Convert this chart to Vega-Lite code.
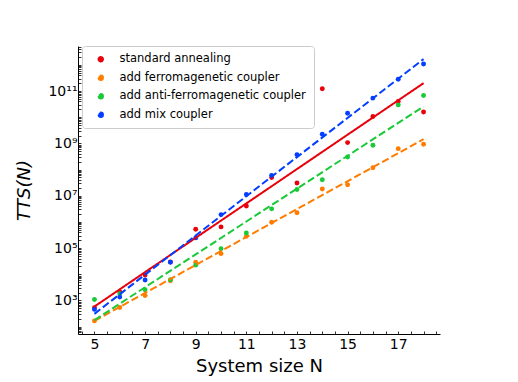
{
  "$schema": "https://vega.github.io/schema/vega-lite/v6.json",
  "width": 362,
  "height": 288,
  "autosize": {"type": "none"},
  "padding": {"left": 78, "top": 46, "right": 78, "bottom": 48},
  "config": {
    "view": {"stroke": null},
    "font": "DejaVu Sans",
    "axis": {
      "domainColor": "black", "domainWidth": 1, "tickColor": "black", "tickWidth": 0.8,
      "labelColor": "black", "titleColor": "black", "grid": false,
      "labelFont": "DejaVu Sans", "titleFont": "DejaVu Sans", "labelFontSize": 14, "titleFontSize": 18,
      "titleFontWeight": "normal", "labelOverlap": false, "labelFlush": false
    },
    "legend": {
      "orient": "none", "legendX": 4, "legendY": 0,
      "labelFont": "DejaVu Sans", "labelFontSize": 11.5, "labelColor": "black",
      "symbolSize": 24, "symbolType": "circle", "padding": 7.5, "rowPadding": 5.5,
      "fillColor": "rgba(255,255,255,0.8)", "strokeColor": "#cccccc", "cornerRadius": 3,
      "symbolOffset": 5.5, "labelOffset": 13, "labelLimit": 400
    }
  },
  "datasets": {
    "points": [
      {"N": 5, "TTS": 525, "series": "standard annealing"},
      {"N": 6, "TTS": 2138, "series": "standard annealing"},
      {"N": 7, "TTS": 9333, "series": "standard annealing"},
      {"N": 8, "TTS": 29512, "series": "standard annealing"},
      {"N": 9, "TTS": 524807, "series": "standard annealing"},
      {"N": 10, "TTS": 645654, "series": "standard annealing"},
      {"N": 11, "TTS": 4073803, "series": "standard annealing"},
      {"N": 12, "TTS": 5.012e7, "series": "standard annealing"},
      {"N": 13, "TTS": 3.09e7, "series": "standard annealing"},
      {"N": 14, "TTS": 1.23e11, "series": "standard annealing"},
      {"N": 15, "TTS": 1.072e9, "series": "standard annealing"},
      {"N": 16, "TTS": 1.072e10, "series": "standard annealing"},
      {"N": 17, "TTS": 3.98e10, "series": "standard annealing"},
      {"N": 18, "TTS": 1.585e10, "series": "standard annealing"},
      {"N": 5, "TTS": 166, "series": "add ferromagenetic coupler"},
      {"N": 6, "TTS": 537, "series": "add ferromagenetic coupler"},
      {"N": 7, "TTS": 1549, "series": "add ferromagenetic coupler"},
      {"N": 8, "TTS": 5623, "series": "add ferromagenetic coupler"},
      {"N": 9, "TTS": 28840, "series": "add ferromagenetic coupler"},
      {"N": 10, "TTS": 61660, "series": "add ferromagenetic coupler"},
      {"N": 11, "TTS": 281838, "series": "add ferromagenetic coupler"},
      {"N": 12, "TTS": 977237, "series": "add ferromagenetic coupler"},
      {"N": 13, "TTS": 2.239e6, "series": "add ferromagenetic coupler"},
      {"N": 14, "TTS": 1.82e7, "series": "add ferromagenetic coupler"},
      {"N": 15, "TTS": 2.63e7, "series": "add ferromagenetic coupler"},
      {"N": 16, "TTS": 1.175e8, "series": "add ferromagenetic coupler"},
      {"N": 17, "TTS": 6.31e8, "series": "add ferromagenetic coupler"},
      {"N": 18, "TTS": 9.33e8, "series": "add ferromagenetic coupler"},
      {"N": 5, "TTS": 1096, "series": "add anti-ferromagenetic coupler"},
      {"N": 6, "TTS": 1820, "series": "add anti-ferromagenetic coupler"},
      {"N": 7, "TTS": 2570, "series": "add anti-ferromagenetic coupler"},
      {"N": 8, "TTS": 6166, "series": "add anti-ferromagenetic coupler"},
      {"N": 9, "TTS": 22387, "series": "add anti-ferromagenetic coupler"},
      {"N": 10, "TTS": 95499, "series": "add anti-ferromagenetic coupler"},
      {"N": 11, "TTS": 380189, "series": "add anti-ferromagenetic coupler"},
      {"N": 12, "TTS": 3.162e6, "series": "add anti-ferromagenetic coupler"},
      {"N": 13, "TTS": 1.738e7, "series": "add anti-ferromagenetic coupler"},
      {"N": 14, "TTS": 4.07e7, "series": "add anti-ferromagenetic coupler"},
      {"N": 15, "TTS": 3.02e8, "series": "add anti-ferromagenetic coupler"},
      {"N": 16, "TTS": 8.51e8, "series": "add anti-ferromagenetic coupler"},
      {"N": 17, "TTS": 2.95e10, "series": "add anti-ferromagenetic coupler"},
      {"N": 18, "TTS": 6.76e10, "series": "add anti-ferromagenetic coupler"},
      {"N": 5, "TTS": 457, "series": "add mix coupler"},
      {"N": 6, "TTS": 1349, "series": "add mix coupler"},
      {"N": 7, "TTS": 6026, "series": "add mix coupler"},
      {"N": 8, "TTS": 28840, "series": "add mix coupler"},
      {"N": 9, "TTS": 245471, "series": "add mix coupler"},
      {"N": 10, "TTS": 1.905e6, "series": "add mix coupler"},
      {"N": 11, "TTS": 1.122e7, "series": "add mix coupler"},
      {"N": 12, "TTS": 6.03e7, "series": "add mix coupler"},
      {"N": 13, "TTS": 3.72e8, "series": "add mix coupler"},
      {"N": 14, "TTS": 2.239e9, "series": "add mix coupler"},
      {"N": 15, "TTS": 1.413e10, "series": "add mix coupler"},
      {"N": 16, "TTS": 5.37e10, "series": "add mix coupler"},
      {"N": 17, "TTS": 2.82e11, "series": "add mix coupler"},
      {"N": 18, "TTS": 1.072e12, "series": "add mix coupler"}
    ],
    "lines": [
      {"N": 5, "TTS": 589, "series": "standard annealing"},
      {"N": 18, "TTS": 2.0e11, "series": "standard annealing"},
      {"N": 5, "TTS": 166, "series": "add ferromagenetic coupler"},
      {"N": 18, "TTS": 1.445e9, "series": "add ferromagenetic coupler"},
      {"N": 5, "TTS": 178, "series": "add anti-ferromagenetic coupler"},
      {"N": 18, "TTS": 2.57e10, "series": "add anti-ferromagenetic coupler"},
      {"N": 5, "TTS": 309, "series": "add mix coupler"},
      {"N": 18, "TTS": 1.66e12, "series": "add mix coupler"}
    ]
  },
  "encoding": {
    "x": {
      "field": "N", "type": "quantitative",
      "scale": {"domain": [4.35, 18.65], "nice": false, "zero": false},
      "axis": {
        "title": "System size N",
        "values": [4.5, 5, 5.5, 6, 6.5, 7, 7.5, 8, 8.5, 9, 9.5, 10, 10.5, 11, 11.5, 12, 12.5, 13, 13.5, 14, 14.5, 15, 15.5, 16, 16.5, 17, 17.5, 18, 18.5],
        "labelExpr": "datum.value % 2 == 1 ? datum.value + '' : ''",
        "tickSize": -3, "labelPadding": 6, "titlePadding": 6
      }
    },
    "y": {
      "field": "TTS", "type": "quantitative",
      "scale": {"type": "log", "domain": [52.5, 5.25e12], "nice": false},
      "axis": {
        "title": "TTS(N)", "titleFontStyle": "italic",
        "values": [60, 70, 80, 90,
          100, 200, 300, 400, 500, 600, 700, 800, 900,
          1e3, 2e3, 3e3, 4e3, 5e3, 6e3, 7e3, 8e3, 9e3,
          1e4, 2e4, 3e4, 4e4, 5e4, 6e4, 7e4, 8e4, 9e4,
          1e5, 2e5, 3e5, 4e5, 5e5, 6e5, 7e5, 8e5, 9e5,
          1e6, 2e6, 3e6, 4e6, 5e6, 6e6, 7e6, 8e6, 9e6,
          1e7, 2e7, 3e7, 4e7, 5e7, 6e7, 7e7, 8e7, 9e7,
          1e8, 2e8, 3e8, 4e8, 5e8, 6e8, 7e8, 8e8, 9e8,
          1e9, 2e9, 3e9, 4e9, 5e9, 6e9, 7e9, 8e9, 9e9,
          1e10, 2e10, 3e10, 4e10, 5e10, 6e10, 7e10, 8e10, 9e10,
          1e11, 2e11, 3e11, 4e11, 5e11, 6e11, 7e11, 8e11, 9e11,
          1e12, 2e12, 3e12, 4e12, 5e12],
        "labelExpr": "datum.value == 1000 ? '10³' : datum.value == 100000 ? '10⁵' : datum.value == 10000000 ? '10⁷' : datum.value == 1000000000 ? '10⁹' : datum.value == 100000000000 ? '10¹¹' : ''",
        "tickSize": -3, "labelPadding": 4, "titlePadding": 14
      }
    }
  },
  "layer": [
    {
      "data": {"name": "points"},
      "mark": {"type": "point", "filled": true, "size": 24, "opacity": 1, "shape": "circle"},
      "encoding": {
        "color": {
          "field": "series", "type": "nominal",
          "scale": {
            "domain": ["standard annealing", "add ferromagenetic coupler", "add anti-ferromagenetic coupler", "add mix coupler"],
            "range": ["#e8000b", "#ff7c00", "#1ac938", "#023eff"]
          },
          "legend": {"title": null}
        }
      }
    },
    {
      "data": {"name": "lines"},
      "mark": {"type": "line", "strokeWidth": 2},
      "encoding": {
        "color": {"field": "series", "type": "nominal", "legend": null},
        "strokeDash": {
          "field": "series", "type": "nominal",
          "scale": {
            "domain": ["standard annealing", "add ferromagenetic coupler", "add anti-ferromagenetic coupler", "add mix coupler"],
            "range": [[1, 0], [7.4, 3.2], [7.4, 3.2], [7.4, 3.2]]
          },
          "legend": null
        }
      }
    }
  ]
}
